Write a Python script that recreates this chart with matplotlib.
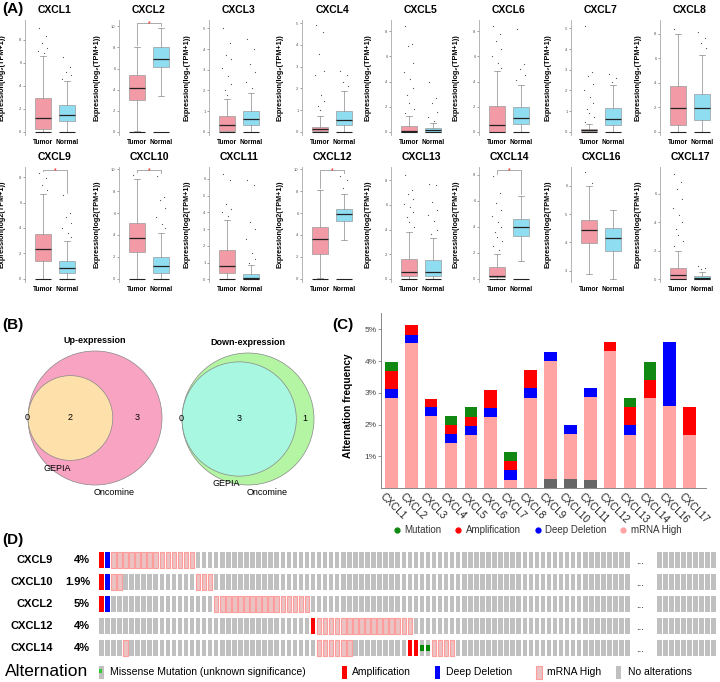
import matplotlib
matplotlib.use('Agg')
import matplotlib.pyplot as plt
from matplotlib.patches import Rectangle, Circle
from matplotlib.lines import Line2D
import matplotlib.transforms as mtransforms
import numpy as np

plt.rcParams['font.family'] = ['Liberation Sans', 'DejaVu Sans']

# ---------------- DATA ----------------
genes_A = ['CXCL1', 'CXCL2', 'CXCL3', 'CXCL4', 'CXCL5', 'CXCL6', 'CXCL7', 'CXCL8',
           'CXCL9', 'CXCL10', 'CXCL11', 'CXCL12', 'CXCL13', 'CXCL14', 'CXCL16', 'CXCL17']
# (whisker low, q1, median, q3, whisker high)
tumor_box = [(0, 0.23, 1.14, 2.9, 6.6), (0.1, 3.0, 4.2, 5.4, 8.0), (0, 0.02, 0.32, 0.76, 1.6),
             (0, 0.03, 0.12, 0.22, 0.74), (0, 0.0, 0.08, 0.45, 1.3), (0, 0.0, 0.58, 2.05, 4.85),
             (0, 0.02, 0.08, 0.16, 0.4), (0, 0.6, 1.95, 3.7, 8.0), (0, 1.38, 2.35, 3.55, 6.65),
             (0, 2.4, 3.7, 5.1, 9.1), (0, 0.37, 0.82, 1.75, 3.55), (0.05, 2.25, 3.6, 4.7, 8.1),
             (0, 0.2, 0.53, 1.65, 3.8), (0, 0.12, 0.25, 0.88, 1.9), (2.88, 3.98, 4.44, 4.8, 6.0),
             (0, 0.02, 0.26, 0.81, 1.98)]
normal_box = [(0, 0.9, 1.4, 2.3, 4.4), (3.4, 6.15, 6.9, 8.05, 9.85), (0, 0.35, 0.63, 1.0, 1.87),
              (0, 0.3, 0.56, 0.95, 1.9), (0, 0.02, 0.13, 0.34, 0.74), (0, 0.65, 1.13, 1.95, 3.7),
              (0, 0.35, 0.64, 1.17, 2.24), (0, 0.95, 1.95, 3.05, 6.25), (0, 0.43, 0.82, 1.4, 3.0),
              (0, 0.55, 1.15, 2.0, 4.2), (0, 0.04, 0.1, 0.33, 0.86), (3.55, 5.25, 5.95, 6.4, 7.7),
              (0, 0.2, 0.53, 1.52, 3.3), (1.4, 3.3, 4.0, 4.6, 6.35), (2.7, 3.7, 4.14, 4.5, 5.15),
              (0, 0.02, 0.1, 0.23, 0.53)]
tumor_fliers = [[9.0, 8.3, 7.7, 7.3, 7.0, 6.8], [], [5.0, 4.3, 3.7, 3.5, 3.1, 2.7, 2.3, 2.0, 1.8],
                [4.9, 4.6, 3.6, 2.8, 2.6, 1.7, 1.4, 1.2, 1.0],
                [8.4, 7.0, 6.8, 5.5, 4.8, 4.2, 3.5, 2.9, 2.3, 1.8, 1.5],
                [8.4, 7.8, 7.2, 6.6, 6.0, 5.5, 5.1],
                [5.1, 2.9, 2.7, 2.3, 2.0, 1.7, 1.4, 1.1, 0.9, 0.7, 0.5], [8.4],
                [8.3, 7.9, 7.4, 7.0], [9.5], [6.3, 5.9, 4.5, 4.2, 4.0, 3.8], [],
                [8.4, 7.2, 6.9, 6.5, 6.1, 5.8, 5.4, 5.0, 4.6, 4.2],
                [7.9, 6.6, 5.8, 5.3, 4.8, 4.4, 4.0, 3.6, 3.2, 2.9, 2.5, 2.2], [6.5, 6.1],
                [7.4, 6.8, 6.3, 5.6, 5.0, 4.5, 4.0, 3.5, 3.1, 2.7, 2.3]]
normal_fliers = [[6.5, 5.6, 5.2, 4.9, 4.6], [], [4.5, 4.0, 3.3, 2.9, 2.4, 2.1], [2.8, 2.6, 2.3, 2.1],
                 [4.0, 2.7, 2.3, 1.6, 1.2, 0.9], [8.2, 5.4, 5.0, 4.5, 4.1], [2.8, 2.6, 2.4],
                 [8.1, 7.6, 7.2, 6.8], [6.6, 5.2, 4.9, 4.4, 4.0, 3.6, 3.3],
                 [9.4, 7.5, 7.2, 6.5, 5.6, 5.0, 4.6], [5.9, 5.6, 3.4, 3.0, 2.4, 1.6, 1.2, 1.0],
                 [9.4, 9.0, 8.3], [7.7, 7.6, 6.2, 5.6, 5.2, 4.7, 4.0, 3.6], [], [], [0.9, 0.8, 0.7]]
y_ranges = [(-0.3, 9.7), (-0.3, 10.6), (-0.15, 5.4), (-0.15, 5.15), (-0.25, 8.9), (-0.25, 8.9),
            (-0.15, 5.4), (-0.25, 9.1), (-0.25, 8.8), (-0.3, 10.2), (-0.15, 6.7), (-0.3, 10.2),
            (-0.25, 9.07), (-0.25, 8.6), (2.6, 6.66), (-0.2, 7.86)]
y_steps = [2, 2, 1, 1, 2, 2, 1, 2, 2, 2, 1, 2, 2, 2, 1, 2]
significant = ['CXCL2', 'CXCL9', 'CXCL10', 'CXCL12', 'CXCL14']
box_labels = ['Tumor', 'Normal']

venn_up = {'GEPIA only': 0, 'both': 2, 'Oncomine only': 3}
venn_down = {'GEPIA only': 0, 'both': 3, 'Oncomine only': 1}

genes_C = ['CXCL1', 'CXCL2', 'CXCL3', 'CXCL4', 'CXCL5', 'CXCL6', 'CXCL7', 'CXCL8',
           'CXCL9', 'CXCL10', 'CXCL11', 'CXCL12', 'CXCL13', 'CXCL14', 'CXCL16', 'CXCL17']
other_pct = [0, 0, 0, 0, 0, 0, 0, 0, 0.28, 0.28, 0.26, 0, 0, 0, 0, 0]
mrna_pct = [2.84, 4.56, 2.26, 1.42, 1.67, 2.24, 0.26, 2.84, 3.72, 1.41, 2.61, 4.32, 1.68, 2.84, 2.58, 1.68]
del_pct = [0.28, 0.28, 0.28, 0.27, 0.30, 0.29, 0.30, 0.30, 0.29, 0.29, 0.30, 0, 0.30, 0, 2.01, 0]
amp_pct = [0.58, 0.30, 0.28, 0.29, 0.27, 0.55, 0.28, 0.58, 0, 0, 0, 0.28, 0.58, 0.58, 0, 0.88]
mut_pct = [0.28, 0, 0, 0.29, 0.30, 0, 0.30, 0, 0, 0, 0, 0, 0.28, 0.57, 0, 0]

genes_D = ['CXCL9', 'CXCL10', 'CXCL2', 'CXCL12', 'CXCL14']
pct_D = ['4%', '1.9%', '5%', '4%', '4%']
amp_cases = [[0], [0], [0], [35], [51, 52]]
del_cases = [[1], [1], [1], [], []]
mrna_cases = [list(range(2, 16)), [2, 3, 16, 17, 18], list(range(19, 35)), list(range(36, 52)),
              [4] + list(range(36, 42)) + list(range(55, 59))]
missense_cases = [[], [], [], [], [53, 54]]
n_shown_main = 88
n_shown_tail = 10

# ---------------- FIGURE ----------------
W, H = 720, 682
fig = plt.figure(figsize=(7.2, 6.82), dpi=100)


def fx(px):
    return px / W


def fy(py):
    return 1 - py / H


tumor_color = '#F29AA5'
normal_color = '#8FDDF0'
jit = [-0.22, 0.18, -0.05, 0.28, -0.3, 0.08, 0.22, -0.15, 0.0, 0.3, -0.25, 0.12]

tumor_centers = [43, 137, 227, 320, 409, 497, 589, 678]
SP = 24.0          # pixels between tumor and normal boxes
for k, g in enumerate(genes_A):
    row, col = divmod(k, 8)
    tc = tumor_centers[col]
    top_px, bot_px = (20, 135) if row == 0 else (167, 282)
    left, right = tc - 18, tc + SP + 12
    ax = fig.add_axes([fx(left), fy(bot_px), (right - left) / W, (bot_px - top_px) / H])
    ax.set_xlim(1 - 18 / SP, 2 + 12 / SP)
    lo, hi = y_ranges[k]
    ax.set_ylim(lo, hi)
    stats = []
    for s in (tumor_box[k], normal_box[k]):
        stats.append(dict(whislo=s[0], q1=s[1], med=s[2], q3=s[3], whishi=s[4], fliers=[]))
    bw = 16 / SP
    bp = ax.bxp(stats, positions=[1, 2], widths=bw, patch_artist=True, showfliers=False,
                boxprops=dict(edgecolor='#9a9a9a', linewidth=0.5),
                medianprops=dict(color='#222222', linewidth=0.9),
                whiskerprops=dict(color='#8a8a8a', linewidth=0.5),
                capprops=dict(color='#8a8a8a', linewidth=0.5), capwidths=bw * 0.4)
    bp['boxes'][0].set_facecolor(tumor_color)
    bp['boxes'][1].set_facecolor(normal_color)
    for pos in (1, 2):
        ax.hlines(0, pos - bw / 2, pos + bw / 2, color='#222222', lw=0.8, zorder=3)
    for pos, fl in ((1, tumor_fliers[k]), (2, normal_fliers[k])):
        xs = [pos + jit[i % len(jit)] * bw for i in range(len(fl))]
        ax.scatter(xs, fl, s=0.8, color='#555555', linewidths=0, zorder=4)
    if g in significant:
        rng = hi - lo
        ybr = hi - 0.03 * rng
        td = max([tumor_box[k][4]] + tumor_fliers[k]) + 0.02 * rng
        nd = max([normal_box[k][4]] + normal_fliers[k]) + 0.02 * rng
        ax.plot([1, 1, 2, 2], [td, ybr, ybr, nd], color='#8a8a8a', lw=0.5, clip_on=False)
        ax.text(1.5, ybr, '*', color='red', fontsize=5, ha='center', va='center', clip_on=False)
    step = y_steps[k]
    t0 = np.ceil(lo / step) * step
    ax.set_yticks(np.arange(max(t0, 0 if lo < 0 else t0), hi, step))
    ax.tick_params(axis='y', labelsize=3, length=1.5, width=0.4, pad=1, colors='#555555')
    ax.set_xticks([1, 2])
    ax.set_xticklabels(box_labels, fontsize=4.8, fontweight='bold')
    ax.tick_params(axis='x', length=0, pad=3)
    for sp in ('top', 'right', 'bottom'):
        ax.spines[sp].set_visible(False)
    ax.spines['left'].set_color('#aaaaaa')
    ax.spines['left'].set_linewidth(0.6)
    ylab = 'Expression(log\u2082(TPM+1))' if row == 0 else 'Expression(log2(TPM+1))'
    ax.set_ylabel(ylab, fontsize=5.2, fontweight='bold')
    ax.yaxis.set_label_coords(-19 / (right - left), 0.5)
    ax.text(1.5, 1 + 10 / 115, g, transform=mtransforms.blended_transform_factory(ax.transData, ax.transAxes),
            fontsize=7.5, fontweight='bold', ha='center', va='center')

fig.text(fx(2), fy(9), '(A)', fontsize=11, fontweight='bold', ha='left', va='center')

# ---------------- Panel B ----------------
axB = fig.add_axes([0, fy(505), fx(330), (505 - 318) / H])
axB.set_xlim(0, 330)
axB.set_ylim(505, 318)
axB.axis('off')


def venn(ax, cx, cy, R, counts, outer_col, inner_col, title, gepia_off, onco_off):
    g_tot = counts['GEPIA only'] + counts['both']
    o_tot = counts['Oncomine only'] + counts['both']
    r = R * np.sqrt(g_tot / o_tot)
    icx = cx - (R - r)
    ax.add_patch(Circle((cx, cy), R, facecolor=outer_col, edgecolor='#888888', lw=0.5))
    ax.add_patch(Circle((icx, cy), r, facecolor=inner_col, edgecolor='#888888', lw=0.5))
    ax.text(cx - R - 1, cy, str(counts['GEPIA only']), fontsize=6.5, ha='center', va='center')
    ax.text(icx, cy, str(counts['both']), fontsize=6.5, ha='center', va='center')
    ax.text((icx + r + cx + R) / 2, cy, str(counts['Oncomine only']), fontsize=6.5, ha='center', va='center')
    ax.text(cx, cy - R - 10, title, fontsize=6.5, fontweight='bold', ha='center', va='center')
    ax.text(icx + gepia_off[0], cy + gepia_off[1], 'GEPIA', fontsize=6.5, ha='center', va='center')
    ax.text(cx + onco_off[0], cy + onco_off[1], 'Oncomine', fontsize=6.5, ha='center', va='center')


venn(axB, 95, 418, 67, venn_up, '#F9A3C3', '#FDE0AA', 'Up-expression', (-13, 51), (19, 75))
venn(axB, 248, 419, 66, venn_down, '#B3F5A3', '#A8F7E0', 'Down-expression', (-13, 65), (19, 74))
fig.text(fx(2), fy(325), '(B)', fontsize=11, fontweight='bold', ha='left', va='center')

# ---------------- Panel C ----------------
axC = fig.add_axes([fx(381), fy(488), fx(706) - fx(381), (488 - 313) / H])
xc = np.arange(len(genes_C))
bottom = np.zeros(len(genes_C))
for vals, colr in ((other_pct, '#666666'), (mrna_pct, '#FFA3A3'), (del_pct, '#0000FF'),
                   (amp_pct, '#FF0000'), (mut_pct, '#118811')):
    v = np.array(vals)
    axC.bar(xc, v, 0.64, bottom=bottom, color=colr, linewidth=0)
    bottom += v
axC.set_xlim(-0.52, 15.82)
axC.set_ylim(0, 5.52)
axC.set_yticks([1, 2, 3, 4, 5])
axC.set_yticklabels(['1%', '2%', '3%', '4%', '5%'], fontsize=6, color='#444444')
axC.tick_params(axis='y', length=2, width=0.5, colors='#666666', pad=1)
for lab in axC.get_yticklabels():
    lab.set_color('#444444')
axC.set_xticks(xc)
axC.set_xticklabels([''] * len(genes_C))
axC.tick_params(axis='x', length=0, pad=0)
blend = mtransforms.blended_transform_factory(axC.transData, axC.transAxes)
lab_off = mtransforms.ScaledTranslation(0, -3 / 100, fig.dpi_scale_trans)
for i, g in enumerate(genes_C):
    axC.text(xc[i] - 0.3, 0, g, transform=blend + lab_off, rotation=-45, ha='left', va='top',
             rotation_mode='anchor', fontsize=7.2, color='#222222')
for sp in ('top', 'right'):
    axC.spines[sp].set_visible(False)
for sp in ('left', 'bottom'):
    axC.spines[sp].set_color('#888888')
    axC.spines[sp].set_linewidth(0.7)
axC.set_ylabel('Alternation frequency', fontsize=7.3, fontweight='bold')
axC.yaxis.set_label_coords(-28 / 325, 0.47)
handles = [Line2D([], [], marker='o', ls='', color=c, markersize=3.5)
           for c in ('#118811', '#FF0000', '#0000FF', '#FFA3A3')]
leg = axC.legend(handles, ['Mutation', 'Amplification', 'Deep Deletion', 'mRNA High'],
                 loc='center', bbox_to_anchor=(0.48, -0.24), ncol=4, frameon=False, fontsize=7,
                 handletextpad=0.3, columnspacing=1.3, handlelength=0.9)
for t in leg.get_texts():
    t.set_color('#333333')
fig.text(fx(332), fy(325), '(C)', fontsize=11, fontweight='bold', ha='left', va='center')

# ---------------- Panel D ----------------
axD = fig.add_axes([0, 0, 1, 147 / H])
axD.set_xlim(0, W)
axD.set_ylim(682, 535)
axD.axis('off')
x0, stepD, bwD, bh = 99, 6.05, 4.5, 16
x_tail = 657
row_y = [560, 582, 604, 626, 648]
gray = '#C0C0C0'
mrna_face, mrna_edge = '#EBC3C3', '#FF9C9C'
for r, g in enumerate(genes_D):
    yc = row_y[r]
    axD.text(53, yc, g, fontsize=8, fontweight='bold', ha='right', va='center')
    axD.text(90, yc, pct_D[r], fontsize=8, fontweight='bold', ha='right', va='center')
    for i in range(n_shown_main):
        xl = x0 + stepD * i
        if i in amp_cases[r]:
            axD.add_patch(Rectangle((xl, yc - bh / 2), bwD, bh, facecolor='#FF0000', lw=0))
        elif i in del_cases[r]:
            axD.add_patch(Rectangle((xl, yc - bh / 2), bwD, bh, facecolor='#0000FF', lw=0))
        elif i in mrna_cases[r]:
            axD.add_patch(Rectangle((xl, yc - bh / 2), bwD, bh, facecolor=mrna_face,
                                    edgecolor=mrna_edge, lw=0.8))
        else:
            axD.add_patch(Rectangle((xl, yc - bh / 2), bwD, bh, facecolor=gray, lw=0))
            if i in missense_cases[r]:
                axD.add_patch(Rectangle((xl, yc - bh / 6), bwD, bh / 3, facecolor='#008800', lw=0))
    axD.text(640, yc + 1, '...', fontsize=7, ha='center', va='center')
    for i in range(n_shown_tail):
        axD.add_patch(Rectangle((x_tail + stepD * i, yc - bh / 2), bwD, bh, facecolor=gray, lw=0))

ly = 672
axD.text(5, ly, 'Alternation', fontsize=12.5, ha='left', va='center')
lh = 13
axD.add_patch(Rectangle((99, ly - lh / 2), 5, lh, facecolor=gray, lw=0))
axD.add_patch(Rectangle((99, ly - lh / 6 - 1), 3, lh / 3, facecolor='#33CC33', lw=0))
axD.text(110, ly, 'Missense Mutation (unknown significance)', fontsize=7.5, ha='left', va='center')
axD.add_patch(Rectangle((342, ly - lh / 2), 5, lh, facecolor='#FF0000', lw=0))
axD.text(352, ly, 'Amplification', fontsize=7.5, ha='left', va='center')
axD.add_patch(Rectangle((435, ly - lh / 2), 5, lh, facecolor='#0000FF', lw=0))
axD.text(446, ly, 'Deep Deletion', fontsize=7.5, ha='left', va='center')
axD.add_patch(Rectangle((536, ly - lh / 2), 6, lh, facecolor=mrna_face, edgecolor=mrna_edge, lw=0.8))
axD.text(547, ly, 'mRNA High', fontsize=7.5, ha='left', va='center')
axD.add_patch(Rectangle((616, ly - lh / 2), 5, lh, facecolor=gray, lw=0))
axD.text(628, ly, 'No alterations', fontsize=7.5, ha='left', va='center')
fig.text(fx(2), fy(540), '(D)', fontsize=11, fontweight='bold', ha='left', va='center')

fig.savefig('out.png', dpi=100)
